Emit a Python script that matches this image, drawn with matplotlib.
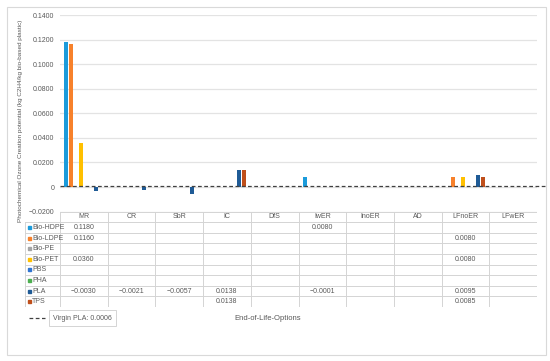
import matplotlib
matplotlib.use('Agg')
import matplotlib.pyplot as plt
from matplotlib.patches import Rectangle
import numpy as np

categories = ['MR', 'CR', 'SbR', 'IC', 'DfS', 'IwER', 'InoER', 'AD', 'LFnoER', 'LFwER']
series = ['Bio-HDPE', 'Bio-LDPE', 'Bio-PE', 'Bio-PET', 'PBS', 'PHA', 'PLA', 'TPS']
colors = ['#1B9BDB', '#F7812B', '#A5A5A5', '#FFC000', '#2E74D2', '#4CAF50', '#1F5B96', '#BF4F1B']
nan = np.nan
values = {
    'Bio-HDPE': [0.1180, nan, nan, nan, nan, 0.0080, nan, nan, nan, nan],
    'Bio-LDPE': [0.1160, nan, nan, nan, nan, nan, nan, nan, 0.0080, nan],
    'Bio-PE':   [nan] * 10,
    'Bio-PET':  [0.0360, nan, nan, nan, nan, nan, nan, nan, 0.0080, nan],
    'PBS':      [nan] * 10,
    'PHA':      [nan] * 10,
    'PLA':      [-0.0030, -0.0021, -0.0057, 0.0138, nan, -0.0001, nan, nan, 0.0095, nan],
    'TPS':      [nan, nan, nan, 0.0138, nan, nan, nan, nan, 0.0085, nan],
}
virgin_pla = 0.0006
yticks = [-0.02, 0.0, 0.02, 0.04, 0.06, 0.08, 0.10, 0.12, 0.14]

W, H = 550, 361
plt.rcParams['font.family'] = ['Liberation Sans', 'DejaVu Sans']
fig = plt.figure(figsize=(W / 100, H / 100), dpi=100)

# outer chart border
fig.patches.append(Rectangle((7 / W, 1 - 355 / H), 539 / W, 348 / H, transform=fig.transFigure,
                             fill=False, edgecolor='#D9D9D9', linewidth=0.8))

x0, x1, ytop, ybot = 60, 537, 15, 211.6
ax = fig.add_axes([x0 / W, 1 - ybot / H, (x1 - x0) / W, (ybot - ytop) / H])

n = len(series)
slot = 0.105
bw = 0.084
x = np.arange(len(categories))
for i, s in enumerate(series):
    v = np.array(values[s], dtype=float)
    ax.bar(x + (i - (n - 1) / 2) * slot, np.nan_to_num(v), width=bw, color=colors[i], zorder=3)

ax.set_xlim(-0.5, len(categories) - 0.5)
ax.set_ylim(-0.02, 0.14)
ax.set_yticks(yticks)
ax.set_yticklabels(['\u22120.0200' if t < 0 else ('0' if t == 0 else '%.4f' % t) for t in yticks],
                   fontsize=5, color='#595959')
ax.set_xticks([])
ax.tick_params(axis='y', length=0, pad=4)
ax.grid(axis='y', color='#E3E3E3', linewidth=0.9, zorder=0)
for sp in ax.spines.values():
    sp.set_visible(False)
ax.plot([-0.5, 9.69], [virgin_pla, virgin_pla], color='#404040', linestyle=(0, (3, 2)),
        linewidth=0.9, zorder=4, clip_on=False)
ax.set_ylabel('Photochemical Ozone Creation potential (kg C2H4/kg bio-based plastic)',
              fontsize=4.6, color='#595959')
ax.yaxis.set_label_coords(-37 / (x1 - x0), 0.46)

# data table under the chart
tleft, tbot = 25, 307
tax = fig.add_axes([tleft / W, 1 - tbot / H, (x1 - tleft) / W, (tbot - ybot) / H])
colw = (x1 - x0) / len(categories)
xl = -0.5 - (x0 - tleft) / colw
tax.set_xlim(xl, len(categories) - 0.5)
tax.set_ylim(n + 1, 0)
tax.axis('off')
gc = '#D4D4D4'
tax.plot([-0.5, 9.5], [0, 0], color=gc, lw=0.7)
for r in range(1, n + 2):
    tax.plot([xl, 9.5], [r, r], color=gc, lw=0.7)
tax.plot([xl, xl], [1, n + 1], color=gc, lw=0.7)
for c in range(len(categories) + 1):
    tax.plot([c - 0.5, c - 0.5], [0, n + 1], color=gc, lw=0.7)
for c, cat in enumerate(categories):
    tax.text(c, 0.5, cat, ha='center', va='center', fontsize=5, color='#595959')
for i, s in enumerate(series):
    tax.add_patch(Rectangle((xl + 0.06, i + 1.35), 0.07, 0.3, color=colors[i]))
    tax.text(xl + 0.15, i + 1.5, s, ha='left', va='center', fontsize=5, color='#595959')
    for c, v in enumerate(values[s]):
        if not np.isnan(v):
            txt = ('\u2212%.4f' % abs(v)) if v < 0 else '%.4f' % v
            tax.text(c, i + 1.5, txt, ha='center', va='center', fontsize=5, color='#595959')

# series legend for the dashed line and axis title
fig.add_artist(plt.Line2D([29 / W, 45 / W], [1 - 318 / H, 1 - 318 / H], color='#404040',
                          linestyle=(0, (3, 2)), linewidth=0.9))
fig.text(53 / W, 1 - 318 / H, 'Virgin PLA: 0.0006', ha='left', va='center', fontsize=5,
         color='#595959',
         bbox=dict(boxstyle='square,pad=0.6', facecolor='white', edgecolor='#D4D4D4', linewidth=0.7))
fig.text(268 / W, 1 - 318 / H, 'End-of-Life-Options', ha='center', va='center', fontsize=5.5,
         color='#595959')

fig.savefig('out.png', dpi=100)
